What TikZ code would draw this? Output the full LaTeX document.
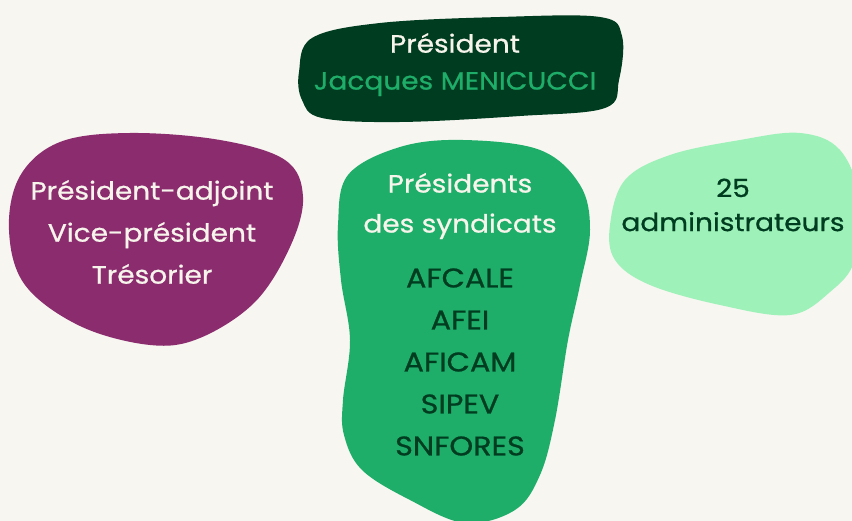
\documentclass[tikz,border=0pt]{standalone}
\usepackage{fontspec}
\setmainfont{Poppins}[FakeStretch=1.12, FakeBold=0.8]
\definecolor{sfondo}{HTML}{F7F6F0}
\definecolor{verdescuro}{HTML}{003C1F}
\definecolor{viola}{HTML}{8B2C6F}
\definecolor{verde}{HTML}{1FAE6A}
\definecolor{verdechiaro}{HTML}{9DF1B9}
\definecolor{crema}{HTML}{F7F4EC}
\begin{document}
\begin{tikzpicture}[x=1pt, y=-1pt, font=\fontsize{25}{42}\selectfont]
% Sfondo
\fill[sfondo] (0,0) rectangle (852,521);
\useasboundingbox (0,0) rectangle (852,521);

% Presidente
\fill[verdescuro] plot[smooth cycle, tension=0.6] coordinates {(299,72) (312,38) (380,23) (500,17) (600,17) (622,36) (619,80) (605,108) (520,116) (400,122) (322,118) (302,100)};
\node[crema] (pres) at (455,43) {Président};
\node[verde] (nome) at (455,84) {Jacques MENICUCCI};

% Ufficio
\fill[viola] plot[smooth cycle, tension=0.6] coordinates {(9,230) (20,176) (60,142) (130,133) (220,140) (285,160) (303,197) (290,247) (255,302) (200,338) (150,345) (80,326) (25,285)};
\node[crema, align=center] (ufficio) at (152,232) {Président-adjoint\\Vice-président\\Trésorier};

% Sindacati
\fill[verde] plot[smooth cycle, tension=0.6] coordinates {(338,225) (348,175) (400,147) (463,140) (540,150) (580,185) (590,230) (580,285) (568,340) (555,420) (540,475) (515,510) (465,523) (410,500) (362,470) (344,435) (343,400) (350,340) (341,280)};
\node[crema, align=center, font=\fontsize{25}{40}\selectfont] (sindacati) at (460,206) {Présidents\\des syndicats};
\node[verdescuro, align=center, font=\fontsize{27}{42}\selectfont] (elenco) at (460,362) {AFCALE\\AFEI\\AFICAM\\SIPEV\\SNFORES};

% Amministratori
\fill[verdechiaro] plot[smooth cycle, tension=0.6] coordinates {(610,225) (625,180) (670,155) (740,140) (800,133) (840,150) (860,200) (855,260) (830,292) (790,315) (720,305) (650,285) (615,260)};
\node[verdescuro, align=center, font=\fontsize{25}{34}\selectfont] (admin) at (733,205) {25\\administrateurs};

\end{tikzpicture}
\end{document}
